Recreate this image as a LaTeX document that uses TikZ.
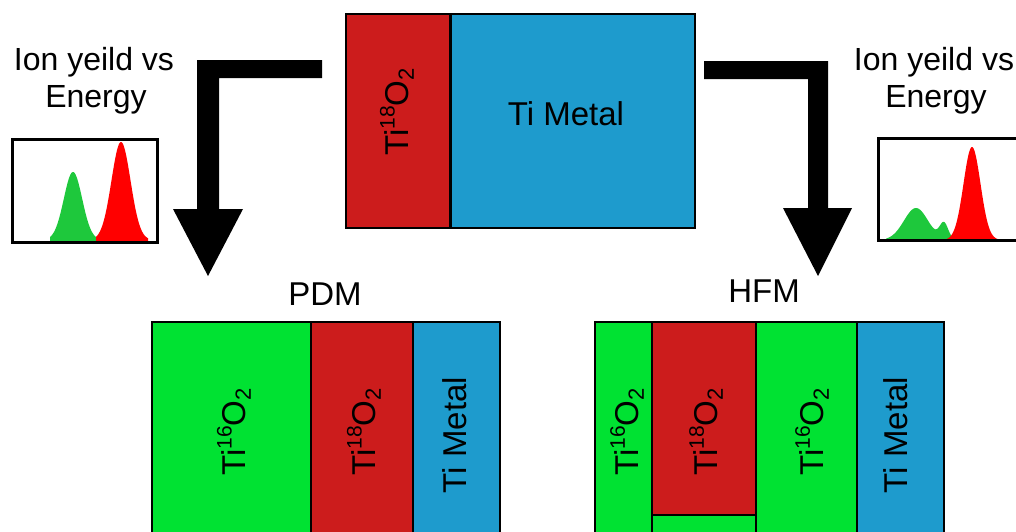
\documentclass[tikz,border=0pt]{standalone}
\usepackage{fontspec}
\setmainfont{Liberation Sans}
\definecolor{boxgreen}{RGB}{0,226,50}
\definecolor{boxred}{RGB}{204,28,28}
\definecolor{boxblue}{RGB}{30,155,205}
\definecolor{peakred}{RGB}{255,0,0}
\definecolor{peakgreen}{RGB}{30,200,60}
\newcommand{\tiox}[1]{Ti\raisebox{0.8ex}{\fontsize{21}{21}\selectfont #1}O\raisebox{-0.3ex}{\fontsize{22}{22}\selectfont 2}}
\begin{document}
\begin{tikzpicture}[x=1pt,y=-1pt,
  col/.style={draw=black,line width=2pt},
  frame/.style={draw=black,line width=3pt},
  big/.style={font=\fontsize{33}{40}\selectfont,inner sep=0pt},
  lab/.style={font=\fontsize{32}{38}\selectfont,inner sep=0pt,anchor=base},
  vert/.style={big,rotate=90,anchor=center},
  bigarrow/.style={fill=black,draw=none}]
\useasboundingbox (0,0) rectangle (1016,531);
\clip (0,0) rectangle (1016,531);
\fill[white] (0,0) rectangle (1016,531);

% top sample
\draw[col,fill=boxred] (346,14) rectangle (450,228);
\draw[col,fill=boxblue] (450,14) rectangle (695,228);
\draw[black,line width=3pt] (450,14) -- (450,228);
\node[vert] (topox) at (397,112) {\tiox{18}};
\node[big,anchor=base] (topmet) at (566,125) {Ti Metal};

% arrows
\coordinate (la) at (322,60);
\coordinate (ra) at (704,61);
\fill[bigarrow] (la) -- (197,60) -- (197,209) -- (173,209) -- (208,276) -- (243,209) -- (219,209) -- (219,78) -- (322,78) -- cycle;
\fill[bigarrow] (ra) -- (828,61) -- (828,208) -- (852,208) -- (818,276) -- (783,208) -- (808,208) -- (808,79) -- (704,79) -- cycle;

% labels
\node[lab] (ionL) at (94,70) {Ion yeild vs};
\node[lab] (enL) at (96,107) {Energy};
\node[lab] (ionR) at (934,70) {Ion yeild vs};
\node[lab] (enR) at (936,107) {Energy};

% left inset graph
\fill[peakgreen] (50,241) -- plot[domain=50:97,samples=80] (\x,{240-68*exp(-((\x-73)/13)*((\x-73)/13))}) -- (97,241) -- cycle;
\fill[peakred] (96,241) -- plot[domain=96:148,samples=80] (\x,{240-98*exp(-((\x-121)/13.5)*((\x-121)/13.5))}) -- (148,241) -- cycle;
\draw[frame] (12,139) rectangle (157,242);

% right inset graph
\fill[peakgreen] (886,241) -- plot[domain=886:952,samples=100] (\x,{240-32*exp(-((\x-916)/17)*((\x-916)/17))-16*exp(-((\x-944)/6)*((\x-944)/6))}) -- (952,241) -- cycle;
\fill[peakred] (947,241) -- plot[domain=947:998,samples=80] (\x,{240-93*exp(-((\x-972)/12)*((\x-972)/12))}) -- (998,241) -- cycle;
\draw[frame] (878,138) rectangle (1040,240);

% PDM
\node[big,anchor=base] (pdm) at (325,305) {PDM};
\draw[col,fill=boxgreen] (152,322) rectangle (311,550);
\draw[col,fill=boxred] (311,322) rectangle (413,550);
\draw[col,fill=boxblue] (413,322) rectangle (500,550);
\node[vert] (pdmA) at (234,432) {\tiox{16}};
\node[vert] (pdmB) at (364,432) {\tiox{18}};
\node[vert] (pdmC) at (455,435) {Ti Metal};

% HFM
\node[big,anchor=base] (hfm) at (764,302) {HFM};
\draw[col,fill=boxgreen] (595,322) rectangle (652,550);
\draw[col,fill=boxred] (652,322) rectangle (756,515);
\draw[col,fill=boxgreen] (652,515) rectangle (756,550);
\draw[col,fill=boxgreen] (756,322) rectangle (857,550);
\draw[col,fill=boxblue] (857,322) rectangle (944,550);
\node[vert] (hfmA) at (627,432) {\tiox{16}};
\node[vert] (hfmB) at (706,432) {\tiox{18}};
\node[vert] (hfmC) at (812,432) {\tiox{16}};
\node[vert] (hfmD) at (896,435) {Ti Metal};
\end{tikzpicture}
\end{document}
